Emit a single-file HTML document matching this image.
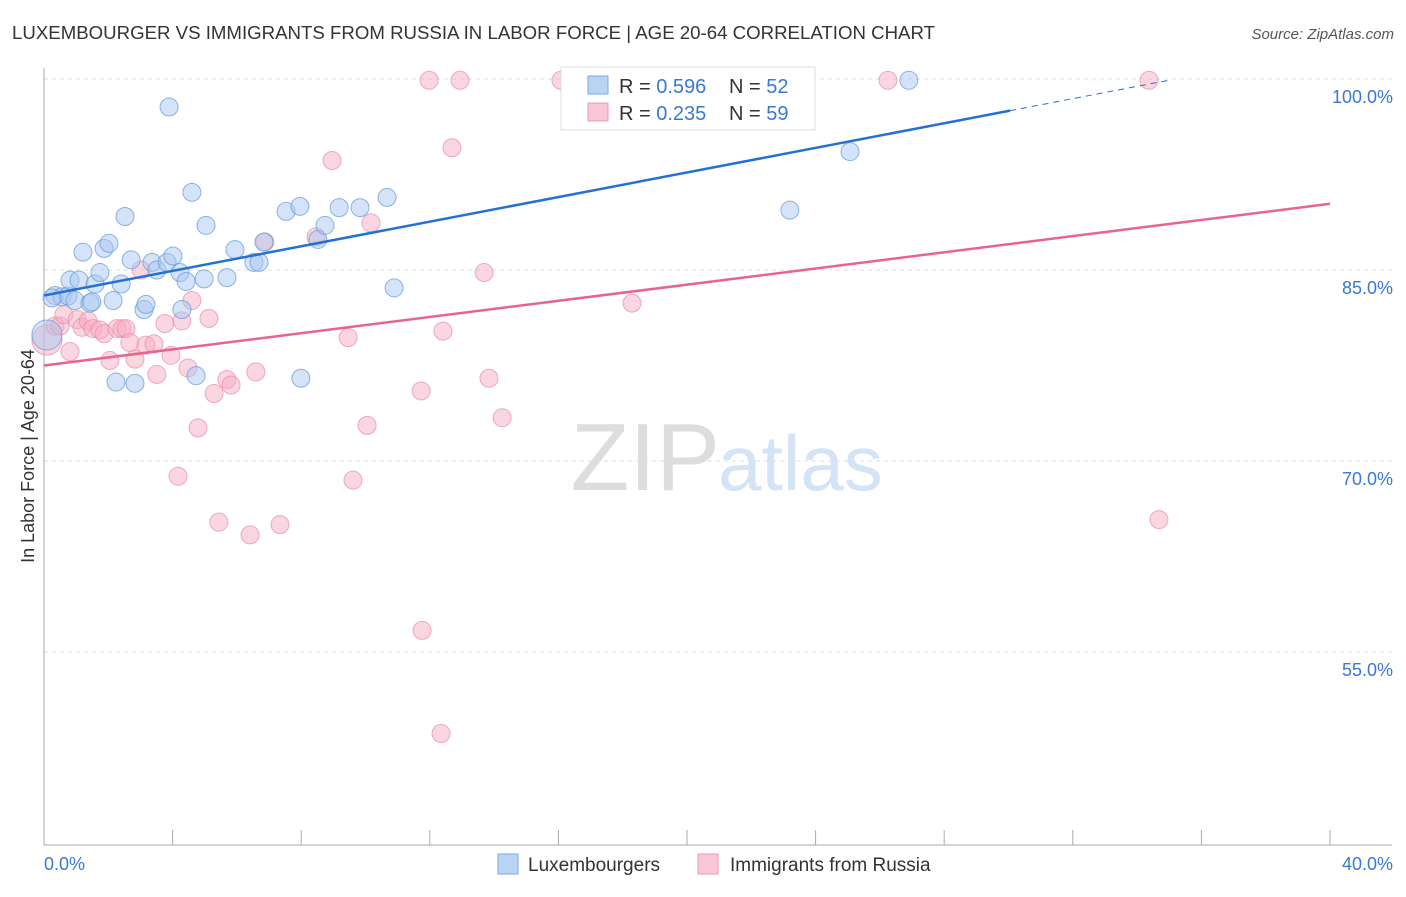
<!DOCTYPE html>
<html><head><meta charset="utf-8"><style>
body{margin:0;background:#fff;font-family:"Liberation Sans",sans-serif}
svg text{font-family:"Liberation Sans",sans-serif}
</style></head><body>
<svg id="chart" width="1406" height="892" xmlns="http://www.w3.org/2000/svg">
<text x="12" y="39" font-size="18" fill="#333" textLength="923" lengthAdjust="spacingAndGlyphs">LUXEMBOURGER VS IMMIGRANTS FROM RUSSIA IN LABOR FORCE | AGE 20-64 CORRELATION CHART</text>
<text x="1394" y="39" font-size="15" fill="#555" text-anchor="end" font-style="italic">Source: ZipAtlas.com</text>
<text transform="translate(34,456) rotate(-90)" font-size="18" fill="#333" text-anchor="middle">In Labor Force | Age 20-64</text>
<g id="grid"></g>
<text x="720" y="490" font-size="96" text-anchor="end" fill="#ddd" font-family="Liberation Serif">ZIP</text>
<text x="718" y="490" font-size="78" fill="#d4e3f6">atlas</text>
<g id="marks"></g>
<g>
<rect x="561" y="67" width="254" height="63" fill="#fff" stroke="#ddd"/>
<rect x="588" y="76" width="20" height="18" fill="#b9d3f5" stroke="#7aa9e6"/>
<rect x="588" y="103" width="20" height="18" fill="#f8c6d5" stroke="#ec9bb5"/>
<text x="619" y="93" font-size="20" fill="#333">R = <tspan fill="#3a78d4">0.596</tspan></text>
<text x="729" y="93" font-size="20" fill="#333">N = <tspan fill="#3a78d4">52</tspan></text>
<text x="619" y="120" font-size="20" fill="#333">R = <tspan fill="#3a78d4">0.235</tspan></text>
<text x="729" y="120" font-size="20" fill="#333">N = <tspan fill="#3a78d4">59</tspan></text>
</g>
<g>
<rect x="498" y="854" width="20" height="20" fill="#b9d3f5" stroke="#7aa9e6"/>
<text x="528" y="871" font-size="19" fill="#333">Luxembourgers</text>
<rect x="698" y="854" width="20" height="20" fill="#f8c6d5" stroke="#ec9bb5"/>
<text x="730" y="871" font-size="19" fill="#333">Immigrants from Russia</text>
</g>
</svg>
<script>
const yTicks=[100,85,70,55];
const xTickLabels=["0.0%","40.0%"];
const luxX=[0.09,0.34,0.56,0.75,0.81,0.96,1.09,1.21,1.43,1.49,1.59,1.74,1.87,2.02,2.15,2.24,2.40,2.52,2.71,2.83,3.11,3.17,3.36,3.51,3.83,3.89,4.01,4.23,4.29,4.42,4.60,4.73,4.98,5.04,5.69,5.94,6.53,6.69,6.84,7.53,7.96,7.99,8.52,8.74,9.18,9.83,10.67,10.89,23.2,25.07,26.9,0.25];
const luxY=[79.9,83.0,82.9,82.96,84.2,82.6,84.2,86.4,82.4,82.5,83.9,84.8,86.7,87.1,82.6,76.2,83.9,89.2,85.8,76.1,81.9,82.3,85.6,85.0,85.6,97.8,86.1,84.8,81.9,84.1,91.1,76.7,84.3,88.5,84.4,86.6,85.6,85.6,87.2,89.6,90.0,76.5,87.4,88.5,89.9,89.9,90.7,83.6,89.7,94.3,99.9,82.8];
const rusX=[0.09,0.34,0.5,0.62,0.81,1.03,1.18,1.37,1.52,1.74,1.87,2.05,2.27,2.43,2.55,2.67,2.83,3.02,3.17,3.42,3.51,3.76,3.95,4.17,4.29,4.48,4.6,4.79,5.13,5.29,5.44,5.69,5.82,6.41,6.59,6.87,7.34,8.46,8.96,9.46,9.61,10.05,10.17,11.73,11.76,11.98,12.35,12.41,12.69,12.94,13.69,13.84,14.25,16.08,18.29,21.15,26.25,34.37,34.68];
const rusY=[79.5,80.6,80.6,81.5,78.6,81.1,80.5,81.0,80.4,80.3,80.0,77.9,80.4,80.4,80.4,79.3,78.0,85.0,79.1,79.2,76.8,80.8,78.3,68.8,81.0,77.3,82.6,72.6,81.2,75.3,65.2,76.4,75.97,64.2,77.0,87.2,65.0,87.6,93.6,79.7,68.5,72.8,88.7,75.5,56.7,99.9,48.6,80.2,94.6,99.9,84.8,76.5,73.4,99.9,82.4,96.9,99.9,99.9,65.4];
const luxTrend=[83.0,0.483];
const rusTrend=[77.5,0.3175];
const NS="http://www.w3.org/2000/svg";
const xs=v=>44+v*1286/40;
const ys=v=>79+(100-v)*191/15;
function mk(tag,attrs,parent){const e=document.createElementNS(NS,tag);for(const k in attrs)e.setAttribute(k,attrs[k]);parent.appendChild(e);return e;}
const grid=document.getElementById('grid'),marks=document.getElementById('marks');
yTicks.forEach(t=>{
 const l=mk('line',{x1:44,x2:1392,y1:ys(t),y2:ys(t),stroke:'#ddd','stroke-dasharray':'4,4'},grid);
 
 
 const tx=mk('text',{x:1393,y:ys(t)+24,'font-size':18,fill:'#3a78d4','text-anchor':'end'},grid);
 tx.textContent=t.toFixed(1)+'%';
 
 
});
const ax=mk('line',{x1:44,x2:44,y1:68,y2:845,stroke:'#aaa'},grid);


const bx=mk('line',{x1:44,x2:1392,y1:845,y2:845,stroke:'#aaa'},grid);


for(let i=0;i<=10;i++){const t=mk('line',{x1:xs(i*4),x2:xs(i*4),y1:830,y2:845,stroke:'#aaa'},grid);
 
 }
xTickLabels.forEach((s,i)=>{const t=mk('text',{x:i?1393:44,y:870,'font-size':18,fill:'#3a78d4','text-anchor':i?'end':'start'},grid);t.textContent=s;
 
 });
function pts(X,Y,fill,stroke,name){X.forEach((x,i)=>{const c=mk('circle',{cx:xs(x),cy:ys(Y[i]),r:(i==0?15:9),fill:fill,'fill-opacity':0.5,stroke:stroke,'stroke-opacity':0.7},marks);
 
 });}
pts(rusX,rusY,'#f5aec4','#e88aa8','point-russia');
pts(luxX,luxY,'#a9c8f0','#5f95dc','point-luxembourger');
const l1=mk('line',{x1:xs(0),y1:ys(luxTrend[0]),x2:xs(30.05),y2:ys(luxTrend[0]+luxTrend[1]*30.05),stroke:'#2370d6','stroke-width':2.5},marks);


const l1d=mk('line',{x1:xs(30.05),y1:ys(luxTrend[0]+luxTrend[1]*30.05),x2:xs(35),y2:ys(luxTrend[0]+luxTrend[1]*35),stroke:'#2370d6','stroke-width':1,'stroke-dasharray':'6,5'},marks);


const l2=mk('line',{x1:xs(0),y1:ys(rusTrend[0]),x2:xs(40),y2:ys(rusTrend[0]+rusTrend[1]*40),stroke:'#e8648f','stroke-width':2.5},marks);


</script>
</body></html>
